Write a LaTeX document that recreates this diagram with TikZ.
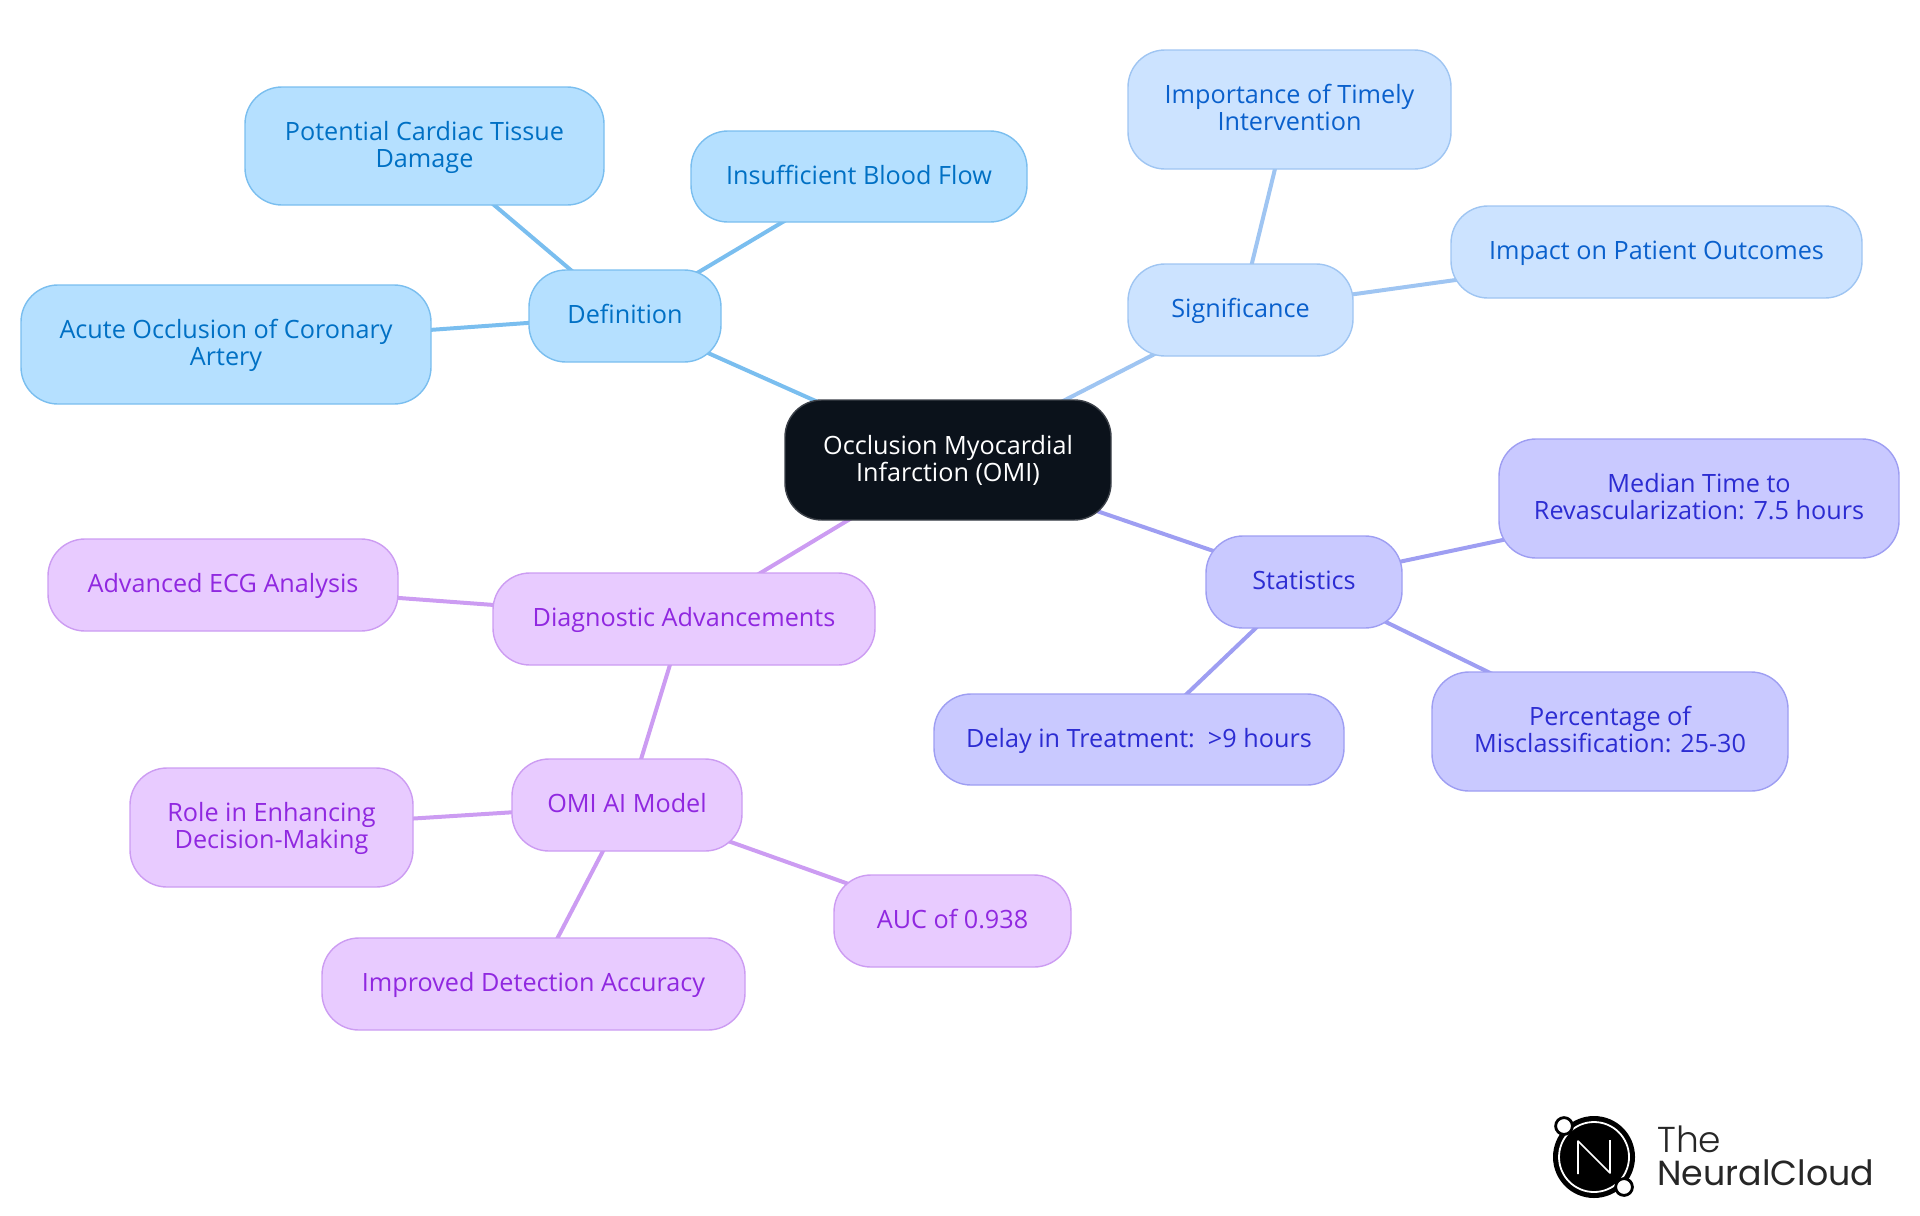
\documentclass[tikz,border=0pt]{standalone}
\usepackage{fontspec}
\setmainfont{Open Sans}
\newfontfamily\logofont{Poppins Light}
\newfontfamily\logofontb{Poppins}
\usetikzlibrary{backgrounds}
\definecolor{cFillA}{HTML}{B5E0FF}\definecolor{cLineA}{HTML}{7ABEEF}\definecolor{cTextA}{HTML}{0070C4}
\definecolor{cFillB}{HTML}{CCE3FF}\definecolor{cLineB}{HTML}{9FC5F2}\definecolor{cTextB}{HTML}{0A60CC}
\definecolor{cFillC}{HTML}{C9C9FF}\definecolor{cLineC}{HTML}{9E9EF2}\definecolor{cTextC}{HTML}{2C2CD2}
\definecolor{cFillD}{HTML}{E8CBFF}\definecolor{cLineD}{HTML}{CC9CF2}\definecolor{cTextD}{HTML}{9028E0}
\definecolor{cRoot}{HTML}{0B121B}
\tikzset{
  box/.style={draw,line width=0.7pt,rounded corners=18.5pt,inner sep=0pt,align=center,
    font=\fontsize{12.6}{13.5}\selectfont},
  boxA/.style={box,fill=cFillA,draw=cLineA,text=cTextA},
  boxB/.style={box,fill=cFillB,draw=cLineB,text=cTextB},
  boxC/.style={box,fill=cFillC,draw=cLineC,text=cTextC},
  boxD/.style={box,fill=cFillD,draw=cLineD,text=cTextD},
  boxR/.style={box,fill=cRoot,draw=cRoot!80!white,text=white},
  linkA/.style={draw=cLineA,line width=2pt},
  linkB/.style={draw=cLineB,line width=2pt},
  linkC/.style={draw=cLineC,line width=2pt},
  linkD/.style={draw=cLineD,line width=2pt},
  logotext/.style={anchor=base west,inner sep=0pt,text=black!85,font=\logofont\fontsize{18}{18}\selectfont},
  logotextb/.style={anchor=base west,inner sep=0pt,text=black!85,font=\logofontb\fontsize{17.4}{18}\selectfont}
}
% \mapnode{name}{x1}{y1}{x2}{y2}{style}{text}
\newcommand{\mapnode}[7]{%
  \pgfmathsetmacro{\mcx}{(#2+#4)/2}\pgfmathsetmacro{\mcy}{(#3+#5)/2}%
  \pgfmathsetmacro{\mw}{(#4-#2)*0.5}\pgfmathsetmacro{\mh}{(#5-#3)*0.5}%
  \node[#6,minimum width=\mw pt,minimum height=\mh pt] (#1) at (\mcx,\mcy) {};
  \node[#6,draw=none,fill=none,rounded corners=0pt] (#1-text) at ([yshift=-0.5pt]#1.center) {\rule{0pt}{9pt}#7\rule[-3pt]{0pt}{0pt}};}
\begin{document}
\begin{tikzpicture}[x=0.5pt,y=-0.5pt]
\useasboundingbox (0,0) rectangle (1920,1215);
\mapnode{root}{785}{400}{1111}{520}{boxR}{Occlusion Myocardial\\Infarction (OMI)}
\mapnode{def}{529}{270}{721}{362}{boxA}{Definition}
\mapnode{pot}{245}{87}{604}{205}{boxA}{Potential Cardiac Tissue\\Damage}
\mapnode{ins}{691}{131}{1027}{222}{boxA}{Insufficient Blood Flow}
\mapnode{acu}{21}{285}{431}{404}{boxA}{Acute Occlusion of Coronary\\Artery}
\mapnode{sig}{1128}{264}{1353}{356}{boxB}{Significance}
\mapnode{imp}{1128}{50}{1451}{169}{boxB}{Importance of Timely\\Intervention}
\mapnode{pat}{1451}{206}{1862}{298}{boxB}{Impact on Patient Outcomes}
\mapnode{sta}{1206}{536}{1402}{628}{boxC}{Statistics}
\mapnode{med}{1499}{439}{1899}{558}{boxC}{Median Time to\\Revascularization: 7.5 hours}
\mapnode{per}{1432}{672}{1788}{791}{boxC}{Percentage of\\Misclassification: 25-30}
\mapnode{del}{934}{694}{1344}{785}{boxC}{Delay in Treatment:\ \ >9 hours}
\mapnode{dia}{493}{573}{875}{665}{boxD}{Diagnostic Advancements}
\mapnode{adv}{48}{539}{398}{631}{boxD}{Advanced ECG Analysis}
\mapnode{oma}{512}{759}{742}{851}{boxD}{OMI AI Model}
\mapnode{rol}{130}{768}{413}{887}{boxD}{Role in Enhancing\\Decision-Making}
\mapnode{auc}{834}{875}{1071}{967}{boxD}{AUC of 0.938}
\mapnode{dtc}{322}{938}{745}{1030}{boxD}{Improved Detection Accuracy}
\begin{scope}[on background layer]
\draw[linkA] (root.center)--(def.center);
\draw[linkA] (def.center)--(pot.center);
\draw[linkA] (def.center)--(ins.center);
\draw[linkA] (def.center)--(acu.center);
\draw[linkB] (root.center)--(sig.center);
\draw[linkB] (sig.center)--(imp.center);
\draw[linkB] (sig.center)--(pat.center);
\draw[linkC] (root.center)--(sta.center);
\draw[linkC] (sta.center)--(med.center);
\draw[linkC] (sta.center)--(per.center);
\draw[linkC] (sta.center)--(del.center);
\draw[linkD] (root.center)--(dia.center);
\draw[linkD] (dia.center)--(adv.center);
\draw[linkD] (dia.center)--(oma.center);
\draw[linkD] (oma.center)--(rol.center);
\draw[linkD] (oma.center)--(auc.center);
\draw[linkD] (oma.center)--(dtc.center);
\end{scope}
% logo
\fill[black] (1594,1157) circle[radius=20.5pt];
\draw[white,line width=0.9pt] (1594,1157) circle[radius=17.5pt];
\draw[white,line width=0.8pt,line join=round] (1578,1174)--(1578,1141)--(1610,1173)--(1610,1140);
\draw[black,fill=white,line width=1.4pt] (1564,1126) circle[radius=4.2pt];
\draw[black,fill=white,line width=1.4pt] (1624,1187) circle[radius=4.2pt];
\node[logotext] (lthe) at (1657,1152) {The};
\node[logotextb] (lnc) at (1657,1185) {NeuralCloud};
\end{tikzpicture}
\end{document}
